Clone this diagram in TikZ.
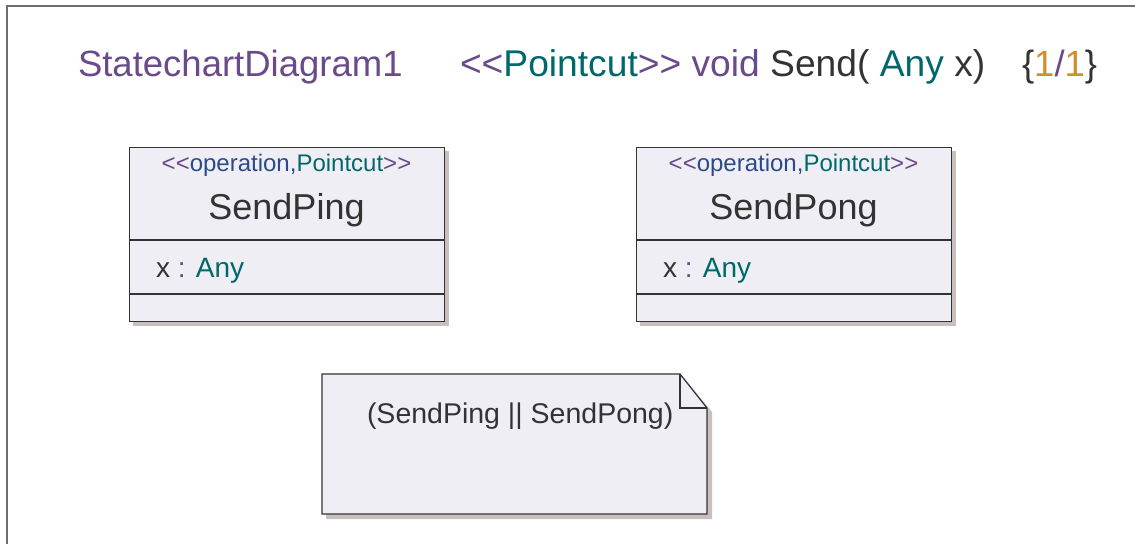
\documentclass[tikz,border=0pt]{standalone}
\usepackage{fontspec}
\setmainfont[Ligatures=TeXOff]{Liberation Sans}
\definecolor{umlpurple}{HTML}{6A4A8A}
\definecolor{umlteal}{HTML}{00686A}
\definecolor{umlgray}{HTML}{333333}
\definecolor{umlorange}{HTML}{D08F2A}
\definecolor{umlblue}{HTML}{2B4A8B}
\definecolor{umlfill}{HTML}{EFEEF5}
\definecolor{umlshadow}{HTML}{C9C0BD}
\definecolor{framegray}{HTML}{6E6E6E}
\newcommand{\fs}[1]{\fontsize{#1}{#1}\selectfont}
\newcommand{\ltlt}{<\kern0pt<}
\newcommand{\gtgt}{>\kern0pt>}
\tikzset{
  txt/.style={inner sep=0pt, outer sep=0pt, anchor=base west, text=umlgray},
  ctxt/.style={inner sep=0pt, outer sep=0pt, anchor=base, text=umlgray},
  classbox/.style={draw=umlgray, line width=1.2pt, fill=umlfill, rectangle, inner sep=0pt,
    minimum width=315pt, minimum height=174pt, anchor=north west},
  shadowfill/.style={fill=umlshadow, draw=none},
  divider/.style={draw=umlgray, line width=1.2pt},
  framestyle/.style={draw=framegray, line width=1.5pt},
}
\begin{document}
\begin{tikzpicture}[x=1pt,y=-1pt]
\useasboundingbox (0,0) rectangle (1135,544);
\fill[white] (0,0) rectangle (1135,544);
% frame
\draw[framestyle] (7,544) -- (7,6) -- (1135,6);
% title
\node[txt, text=umlpurple] (title) at (78,76) {\fs{36.5}StatechartDiagram1};
\node[txt] (sig) at (460,76) {\fs{37.2}\textcolor{umlpurple}{\ltlt}\textcolor{umlteal}{Pointcut}\textcolor{umlpurple}{\gtgt{} void} Send( \textcolor{umlteal}{Any} x)};
\node[txt] (mult) at (1022,76) {\fs{36.5}\{\textcolor{umlorange}{1}\textcolor{umlpurple}{/}\textcolor{umlorange}{1}\}};
% SendPing
\fill[shadowfill] (133,151) rectangle (449,326);
\node[classbox] (ping) at (129,147) {};
\draw[divider] (129,240) -- (444,240);
\draw[divider] (129,294) -- (444,294);
\node[ctxt] (pingst) at (286.5,171) {\fs{24}\textcolor{umlpurple}{\ltlt}\textcolor{umlblue}{operation,}\textcolor{umlteal}{Pointcut}\textcolor{umlpurple}{\gtgt}};
\node[ctxt] (pingname) at (286.5,219) {\fs{36}SendPing};
\node[txt] (pingattr) at (156,277) {\fs{28}x \textcolor{umlpurple}{:} \textcolor{umlteal}{Any}};
% SendPong
\fill[shadowfill] (640,151) rectangle (956,326);
\node[classbox] (pong) at (636,147) {};
\draw[divider] (636,240) -- (951,240);
\draw[divider] (636,294) -- (951,294);
\node[ctxt] (pongst) at (793.5,171) {\fs{24}\textcolor{umlpurple}{\ltlt}\textcolor{umlblue}{operation,}\textcolor{umlteal}{Pointcut}\textcolor{umlpurple}{\gtgt}};
\node[ctxt] (pongname) at (793.5,219) {\fs{36}SendPong};
\node[txt] (pongattr) at (663,277) {\fs{28}x \textcolor{umlpurple}{:} \textcolor{umlteal}{Any}};
% note
\fill[shadowfill] (326,378) -- (684,378) -- (712,412) -- (712,519) -- (326,519) -- cycle;
\draw[umlgray, line width=1.2pt, fill=umlfill, line join=miter] (322,374) -- (680,374) -- (707,408) -- (707,514) -- (322,514) -- cycle;
\draw[umlgray, line width=1.2pt] (680,374) -- (680,408) -- (707,408);
\node[txt] (notetext) at (367,423) {\fs{28.5}(SendPing || SendPong)};
\end{tikzpicture}
\end{document}
